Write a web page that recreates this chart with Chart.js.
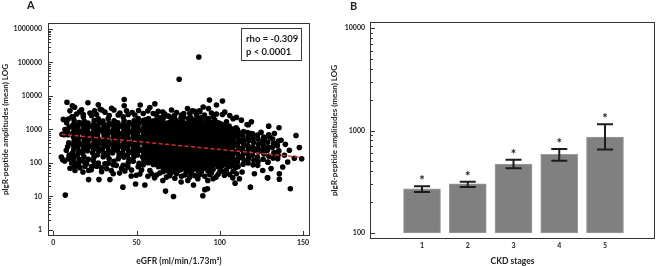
<!DOCTYPE html>
<html>
<head>
<meta charset="utf-8">
<script src="https://cdn.jsdelivr.net/npm/chart.js@4.4.1/dist/chart.umd.min.js"></script>
<style>
  html, body { margin: 0; padding: 0; background: #fff; }
  #wrap { position: relative; width: 658px; height: 266px; overflow: hidden; background: #fff; }
  canvas { position: absolute; top: 0; }
  .lab { position: absolute; font: bold 11px Lato, sans-serif; color: #222; line-height: 11px; }
  #stats { position: absolute; left: 241px; top: 28px; width: 61px; height: 33px; box-sizing: border-box;
           border: 1px solid #3a3a3a; background: #fff; font: bold 9.5px Lato, sans-serif; color: #1a1a1a;
           line-height: 13.4px; padding: 3px 0 0 4px; white-space: nowrap; }
</style>
</head>
<body>
<div id="wrap">
  <canvas id="ca" width="330" height="266" style="left:0;width:330px;height:266px"></canvas>
  <canvas id="cb" width="328" height="266" style="left:330px;width:328px;height:266px"></canvas>
  <div class="lab" style="left:27px;top:-1px">A</div>
  <div class="lab" style="left:350px;top:0px">B</div>
  <div id="stats">rho = -0.309<br>p &lt; 0.0001</div>
</div>
<script>
// ---------------- Panel A data: eGFR vs pIgR-peptide amplitude ----------------
const xTicksA = [0, 50, 100, 150];
const yTicksA = [1, 10, 100, 1000, 10000, 100000, 1000000];
const regressionLine = [[5, 720], [149, 148]];
const egfrAmplitude = [
  // dense core eGFR ~57-108
  [57,102],[56.6,134],[57.4,168],[57,236],[56.5,296],[57.3,408],[57,515],[56.7,705],[57.4,898],[57,1220],[56.6,1560],[57.2,2120],
  [60,90],[60.5,112],[59.6,156],[60.2,195],[60.6,270],[59.8,340],[60.3,466],[59.7,592],[60.4,810],[60,1030],[60.6,1400],[59.8,1790],
  [63,78],[63.5,97],[62.6,134],[63.2,172],[63.6,231],[62.8,300],[63.3,404],[62.7,522],[63.5,700],[63,905],[62.6,1215],[63.4,1570],
  [66,68],[66.4,85],[65.6,118],[66.3,147],[65.8,205],[66.5,257],[66,354],[65.6,450],[66.3,614],[65.8,782],[66.5,1062],[66,1360],[65.7,1850],[66.3,2360],
  [69,57],[69.5,79],[68.6,99],[69.3,134],[68.8,172],[69.5,232],[69,296],[68.6,407],[69.3,516],[68.8,703],[69.5,898],[69,1225],[68.6,1560],
  [72,64],[72.4,89],[71.6,112],[72.3,155],[71.8,196],[72.5,268],[72,341],[71.6,465],[72.3,594],[71.8,806],[72.5,1035],[72,1400],[71.7,1795],[72.3,2430],
  [75,60],[75.5,74],[74.6,102],[75.3,130],[74.8,176],[75.5,226],[75,307],[74.6,392],[75.3,533],[74.8,684],[75.5,925],[75,1188],[74.6,1605],
  [78,67],[78.4,86],[77.6,118],[78.3,148],[77.8,204],[78.5,259],[78,352],[77.6,451],[78.3,612],[77.8,786],[78.5,1060],[78,1366],[77.7,1840],[78.3,2370],
  [81,59],[81.5,77],[80.6,98],[81.3,134],[80.8,173],[81.5,232],[81,298],[80.6,404],[81.3,519],[80.8,700],[81.5,903],[81,1218],[80.6,1570],[81.3,2110],
  [84,65],[84.4,89],[83.6,113],[84.3,153],[83.8,197],[84.5,267],[84,343],[83.6,462],[84.3,597],[83.8,803],[84.5,1038],[84,1395],[83.7,1800],
  [87,58],[87.5,75],[86.6,102],[87.3,130],[86.8,176],[87.5,227],[87,305],[86.6,393],[87.3,531],[86.8,685],[87.5,920],[87,1190],[86.6,1600],[87.3,2070],
  [90,68],[90.4,86],[89.6,116],[90.3,150],[89.8,203],[90.5,260],[90,351],[89.6,453],[90.3,609],[89.8,787],[90.5,1057],[90,1368],
  [93,57],[93.5,78],[92.6,99],[93.3,133],[92.8,173],[93.5,231],[93,299],[92.6,403],[93.3,518],[92.8,701],[93.5,904],[93,1215],[92.6,1572],[93.3,2105],
  [96,65],[96.4,88],[95.6,113],[96.3,153],[95.8,198],[96.5,266],[96,344],[95.6,461],[96.3,598],[95.8,801],[96.5,1040],[96,1392],
  [99,77],[99.5,98],[98.6,134],[99.3,172],[98.8,231],[99.5,298],[99,403],[98.6,520],[99.3,698],[98.8,905],[99.5,1210],[99,1575],
  [102,86],[102.4,117],[101.6,149],[102.3,203],[101.8,260],[102.5,350],[102,452],[101.6,608],[102.3,788],[101.8,1055],[102.5,1370],
  [105,78],[105.5,98],[104.6,134],[105.3,172],[104.8,232],[105.5,298],[105,404],[104.6,519],[105.3,699],[104.8,903],[105.5,1212],
  [108,88],[108.4,113],[107.6,153],[108.3,198],[107.8,266],[108.5,343],[108,462],[107.6,597],[108.3,802],[107.8,1040],
  // dense core, in-between points
  [58.5,109],[58.9,139],[58.2,188],[58.7,243],[58.4,326],[58.9,424],[58.3,559],[58.7,748],[58.2,970],[58.8,1300],[58.4,1690],
  [61.5,95],[61.9,121],[61.2,165],[61.7,211],[61.4,285],[61.9,369],[61.3,495],[61.7,640],[61.2,860],[61.8,1115],[61.4,1490],[61.6,1930],
  [64.5,83],[64.9,105],[64.2,143],[64.7,184],[64.4,248],[64.9,320],[64.3,431],[64.7,556],[64.2,748],[64.8,968],[64.4,1300],[64.6,1680],[64.3,2250],
  [67.5,72],[67.9,92],[67.2,125],[67.7,160],[67.4,216],[67.9,279],[67.3,376],[67.7,485],[67.2,652],[67.8,843],[67.4,1133],[67.6,1465],
  [70.5,62],[70.9,82],[70.2,106],[70.7,143],[70.4,184],[70.9,248],[70.3,321],[70.7,432],[70.2,556],[70.8,748],[70.4,968],[70.6,1300],[70.3,1680],[70.7,2230],
  [73.5,70],[73.9,94],[73.2,122],[73.7,164],[73.4,212],[73.9,285],[73.3,368],[73.7,495],[73.2,640],[73.8,860],[73.4,1110],[73.6,1490],[73.3,1935],
  [76.5,63],[76.9,80],[76.2,108],[76.7,140],[76.4,188],[76.9,243],[76.3,327],[76.7,423],[76.2,567],[76.8,734],[76.4,986],[76.6,1276],[76.3,1714],[76.7,2220],
  [79.5,72],[79.9,92],[79.2,124],[79.7,160],[79.4,216],[79.9,279],[79.3,376],[79.7,485],[79.2,652],[79.8,843],[79.4,1133],[79.6,1465],
  [82.5,61],[82.9,82],[82.2,106],[82.7,143],[82.4,184],[82.9,248],[82.3,321],[82.7,432],[82.2,556],[82.8,748],[82.4,968],[82.6,1300],[82.3,1680],[82.7,2250],
  [85.5,70],[85.9,94],[85.2,122],[85.7,164],[85.4,212],[85.9,285],[85.3,368],[85.7,495],[85.2,640],[85.8,860],[85.4,1110],[85.6,1490],[85.3,1935],
  [88.5,63],[88.9,80],[88.2,108],[88.7,140],[88.4,188],[88.9,243],[88.3,327],[88.7,423],[88.2,567],[88.8,734],[88.4,986],[88.6,1276],[88.3,1714],[88.7,2220],
  [91.5,72],[91.9,92],[91.2,124],[91.7,160],[91.4,216],[91.9,279],[91.3,376],[91.7,485],[91.2,652],[91.8,843],[91.4,1133],[91.6,1465],[91.3,1960],
  [94.5,61],[94.9,82],[94.2,106],[94.7,143],[94.4,184],[94.9,248],[94.3,321],[94.7,432],[94.2,556],[94.8,748],[94.4,968],[94.6,1300],[94.3,1680],
  [97.5,93],[97.9,124],[97.2,160],[97.7,216],[97.4,279],[97.9,376],[97.3,485],[97.7,652],[97.2,843],[97.8,1133],[97.4,1465],
  [100.5,82],[100.9,106],[100.2,143],[100.7,184],[100.4,248],[100.9,321],[100.3,432],[100.7,556],[100.2,748],[100.8,968],[100.4,1300],
  [103.5,94],[103.9,122],[103.2,164],[103.7,212],[103.4,285],[103.9,368],[103.3,495],[103.7,640],[103.2,860],[103.8,1110],
  [106.5,80],[106.9,108],[106.2,140],[106.7,188],[106.4,243],[106.9,327],[106.3,423],[106.7,567],[106.2,734],[106.8,986],
  // left part eGFR ~8-55
  [9,133],[9.5,172],[8.6,305],[9.3,398],[8.8,695],[9.5,1190],[9,2060],[8.4,925],
  [12,117],[12.4,149],[11.6,203],[12.3,259],[11.8,352],[12.5,451],[12,610],[11.6,786],[12.3,1058],[11.8,1368],[12.5,1840],[12,2370],
  [15,102],[15.5,129],[14.6,178],[15.3,226],[14.8,305],[15.5,393],[15,531],[14.6,685],[15.3,922],[14.8,1190],[15.5,1600],
  [18,113],[18.4,153],[17.6,197],[18.3,267],[17.8,343],[18.5,462],[18,597],[17.6,803],[18.3,1038],[17.8,1395],[18.5,1800],[18,2420],
  [21,130],[20.6,232],[21.3,298],[20.8,404],[21.5,519],[21,700],[20.6,903],[21.3,1218],[20.8,1570],
  [24,117],[24.4,149],[23.6,203],[24.3,259],[23.8,352],[24.5,451],[24,610],[23.6,786],[24.3,1058],[23.8,1368],[24.5,1840],
  [27,99],[26.6,176],[27.3,227],[26.8,305],[27.5,393],[27,531],[26.6,685],[27.3,920],[26.8,1190],[27.5,1600],[27,2070],
  [30,153],[30.4,197],[29.6,267],[30.3,343],[29.8,462],[30.5,597],[30,803],[29.6,1038],[30.3,1395],[29.8,1800],
  [33,98],[33.5,134],[32.6,173],[33.3,232],[32.8,298],[33.5,404],[33,519],[32.6,700],[33.3,903],[32.8,1218],[33.5,1570],[33,2110],
  [36,88],[36.4,113],[35.6,198],[36.3,266],[35.8,344],[36.5,461],[36,598],[35.6,801],[36.3,1040],[35.8,1392],[36.5,1805],
  [39,134],[39.5,172],[38.6,231],[39.3,298],[38.8,403],[39.5,520],[39,698],[38.6,905],[39.3,1210],[38.8,1575],
  [42,86],[42.4,149],[41.6,203],[42.3,260],[41.8,350],[42.5,452],[42,608],[41.6,788],[42.3,1055],[41.8,1370],[42.5,1830],[42,2380],
  [45,102],[45.5,130],[44.6,176],[45.3,227],[44.8,305],[45.5,393],[45,531],[44.6,685],[45.3,920],[44.8,1190],[45.5,1600],
  [48,113],[48.4,153],[47.6,198],[48.3,266],[47.8,344],[48.5,461],[48,598],[47.6,801],[48.3,1040],[47.8,1392],[48.5,1805],
  [51,77],[51.5,98],[50.6,173],[51.3,232],[50.8,298],[51.5,404],[51,519],[50.6,700],[51.3,903],[50.8,1218],[51.5,1570],[51,2110],
  [54,88],[54.4,116],[53.6,150],[54.3,203],[53.8,260],[54.5,351],[54,453],[53.6,609],[54.3,787],[53.8,1057],[54.5,1368],[54,1835],
  // left part, in-between points
  [13.8,330],[13.7,430],[13.4,570],[13.8,740],[13.2,980],[13.6,1300],
  [19.3,322],[19.7,425],[19.4,560],[19.8,750],[19.2,975],[19.6,1280],
  [25.3,330],[25.7,420],[25.4,570],[25.8,735],[25.2,990],[25.6,1290],
  [31.3,320],[31.7,430],[31.4,556],[31.8,745],[31.2,965],[31.6,1310],
  [37.3,326],[37.7,427],[37.4,565],[37.8,738],[37.2,980],[37.6,1285],
  [43.3,321],[43.7,433],[43.4,560],[43.8,742],[43.2,972],[43.6,1300],
  [49.8,186],[49.3,245],[49.7,324],[49.4,427],[49.8,562],[49.2,741],[49.6,977],[49.3,1288],[49.7,1698],
  [55.5,125],[55.8,160],[55.3,214],[55.7,282],[55.4,372],[55.8,490],[55.2,646],[55.6,851],[55.3,1122],[55.7,1479],[55.4,1950],
  // right part eGFR ~110-136
  [111,79],[110.5,105],[111.3,138],[110.7,182],[111.2,240],[110.6,330],[111.4,420],[110.8,560],[111.1,760],[110.6,1000],
  [114,92],[114.5,125],[113.6,165],[114.3,215],[113.8,290],[114.4,380],[114,500],[113.7,650],[114.3,870],
  [117,100],[117.4,140],[116.6,190],[117.3,255],[116.8,330],[117.5,470],[117,620],[116.7,810],[117.2,1380],
  [120,88],[120.5,120],[119.6,170],[120.3,230],[119.8,305],[120.4,410],[120,560],[119.7,740],
  [123,110],[122.6,150],[123.3,215],[122.8,280],[123.4,365],[123,520],[122.7,680],
  [126,130],[126.5,185],[125.6,250],[126.3,330],[125.8,440],[126.4,600],
  [129,105],[129.5,160],[128.6,240],[129.3,300],[128.8,420],[129.4,700],
  [132,140],[132.5,200],[131.6,290],[132.3,380],[131.8,520],
  [135,170],[135.5,230],[134.6,330],[135.3,450],
  [109.5,72],[109.8,125],[109.3,210],[109.7,370],[109.4,640],[109.8,1130],
  [112.5,150],[112.8,260],[112.3,450],[112.7,780],
  // scattered high values
  [87.4,146000],[75.6,31600],[8.2,6500],[20.8,6300],[42.6,7900],[42.6,5100],[52.2,5400],[93.8,7600],[101.6,7100],
  [78.4,3000],[84.8,3500],[101.6,2800],[116.4,1400],[129.4,1260],[135.6,1130],[145.8,660],[147.8,290],[149.2,134],
  [144.8,138],[139.4,360],[11.4,5100],[29.2,3800],[36.4,3800],[65.8,3300],[83.6,3600],[93.2,4200],[80.6,4200],[88,3400],
  [11.2,2400],[12.8,4600],[15.8,3400],[24.8,3600],[28.2,4000],[33.6,2630],[47.4,3200],[51.2,3700],[56.8,3600],[69.2,2500],
  [72.8,2630],[87.8,3600],[90.8,2700],[96.2,2400],[100.2,1500],[105.6,1260],[124.8,830],[130,600],[132.8,380],[134.4,210],
  [138.8,170],[140.8,107],[137.8,76],[135.8,48],[128.8,36],[120.8,48],[113.4,54],[111.8,34],[142.4,17],[118.4,19],
  [126.8,270],[141.8,240],[134.8,135],[130.8,68],[125.8,60],[122.8,85],[128.8,107],[116.8,120],[114.8,480],[118.8,760],
  [126.8,540],[132.8,760],[136.8,480],[108,2100],[104,1700],[62,2700],[60,3000],[45,2800],[39,2700],[18,2800],[23,2600],
  [8,1600],[7,1000],[6.5,700],[5.2,720],[6,2000],
  [14,2900],[17,3900],[22,3100],[26,2800],[31,3300],[35,4300],[40,3100],[44,3600],[49,2700],[54,3000],[58,4500],
  [63,3500],[67,2900],[71,3800],[74,3200],[77,2700],[82,3000],[86,2800],[90,4700],[95,3100],[98,2900],[103,3300],
  [106,2600],[110,2300],[113,1900],[119,1700],[10,3600],[27,5500],[61,5800],[98,5400],[66,2250],[89,2050],[97,1900],
  // scattered low values
  [7.2,11],[72.2,10],[89.8,10.5],[91,16],[92.6,17],[67.4,14.5],[41.8,19],[55,22],[49.4,23.5],[84.2,22],[27.4,32],[21.2,32],
  [34,32],[21.2,60],[28.8,72],[46.8,41],[49.8,43],[56.8,40],[60.8,36],[65.8,30],[76.8,27],[80.8,30],[86.8,34],[92.8,30],
  [97.8,38],[102.8,43],[107.8,36],[4.8,151],[5.6,126],[6.8,115],[7.8,240],[9.8,151],[12.8,76],[15.2,85],[17.8,54],
  [22.8,63],[24.8,85],[34.8,60],[37.8,85],[39.8,50],[44.8,76],[109.2,25],[128.6,36],[135.8,33],[64,50],[70,42],[74,48],
  [79,44],[83,50],[88,45],[95,50],[100,55],[104,62],[58,60],[53,62],[31,95],[26,80],[11,100],[14,90],[19,80],
  [59,48],[62,44],[66,55],[68,38],[71,52],[73,35],[77,40],[80,52],[82,38],[85,42],[89,55],[91,40],[94,45],[96,34],
  [99,46],[101,60],[103,50],[106,45],[108,57],[110,48],[10,70],[13,60],[16,72],[20,95],[23,78],[29,55],[32,68],
  [36,48],[41,70],[43,58],[47,62],[52,47]
];

// ---------------- Panel B data: CKD stages ----------------
const ckdStages = [1, 2, 3, 4, 5];
const stageMeans = [269, 301, 471, 586, 864];
const stageLower = [251, 281, 429, 508, 652];
const stageUpper = [286, 317, 519, 660, 1150];
const barBase = 100;
const yTicksB = [100, 1000, 10000];

Chart.defaults.font.family = 'Lato, sans-serif';
Chart.defaults.color = '#222';

function minorTicks(majors) {
  const out = [];
  for (let i = 0; i < majors.length - 1; i++) {
    for (let k = 2; k <= 9; k++) out.push(majors[i] * k);
  }
  return out;
}

const framePlugin = {
  id: 'frame',
  afterDatasetsDraw(chart, args, opts) {
    const { ctx, chartArea: a, scales } = chart;
    ctx.save();
    ctx.strokeStyle = '#333';
    ctx.lineWidth = 1;
    ctx.strokeRect(a.left + 0.5, a.top + 0.5, a.right - a.left - 1, a.bottom - a.top - 1);
    ctx.beginPath();
    (opts.yMajor || []).forEach(v => {
      const py = Math.round(scales.y.getPixelForValue(v)) + 0.5;
      ctx.moveTo(a.left, py); ctx.lineTo(a.left + 5, py);
    });
    minorTicks(opts.yMajor || []).forEach(v => {
      const py = Math.round(scales.y.getPixelForValue(v)) + 0.5;
      if (py > a.top && py < a.bottom) { ctx.moveTo(a.left, py); ctx.lineTo(a.left + 3, py); }
    });
    (opts.xMajor || []).forEach(v => {
      const px = Math.round(scales.x.getPixelForValue(v)) + 0.5;
      ctx.moveTo(px, a.bottom); ctx.lineTo(px, a.bottom - 5);
    });
    ctx.stroke();
    ctx.restore();
  }
};

const errorBarPlugin = {
  id: 'errorBars',
  afterDatasetsDraw(chart) {
    const { ctx, scales: { x, y } } = chart;
    ctx.save();
    ctx.strokeStyle = '#1c1c1c';
    ctx.fillStyle = '#1c1c1c';
    ctx.lineWidth = 2;
    ctx.font = 'bold 13px Lato, sans-serif';
    ctx.textAlign = 'center';
    ctx.textBaseline = 'middle';
    ckdStages.forEach((s, i) => {
      const px = x.getPixelForValue(s);
      const yl = y.getPixelForValue(stageLower[i]);
      const yh = y.getPixelForValue(stageUpper[i]);
      ctx.beginPath();
      ctx.moveTo(px, yl); ctx.lineTo(px, yh);
      ctx.moveTo(px - 8, yl); ctx.lineTo(px + 8, yl);
      ctx.moveTo(px - 8, yh); ctx.lineTo(px + 8, yh);
      ctx.stroke();
      ctx.fillText('*', px, yh - 5);
    });
    ctx.restore();
  }
};

const yTitle = 'pIgR-peptide amplitudes (mean) LOG';

new Chart(document.getElementById('ca'), {
  type: 'scatter',
  data: {
    datasets: [
      {
        type: 'line',
        data: regressionLine.map(([x, y]) => ({ x, y })),
        borderColor: 'rgba(225,45,45,0.95)',
        borderWidth: 1.5,
        borderDash: [4, 2.5],
        pointRadius: 0,
        fill: false
      },
      {
        data: egfrAmplitude.map(([x, y]) => ({ x, y })),
        backgroundColor: '#000',
        borderWidth: 0,
        pointRadius: 2.8,
        pointHoverRadius: 2.8
      }
    ]
  },
  options: {
    responsive: false,
    animation: false,
    devicePixelRatio: 1,
    events: [],
    layout: { padding: { left: 0, right: 20, top: 23, bottom: 0 } },
    plugins: {
      legend: { display: false },
      tooltip: { enabled: false },
      frame: { yMajor: yTicksA, xMajor: xTicksA }
    },
    scales: {
      x: {
        type: 'linear', min: -3.2, max: 154.2, offset: false,
        grid: { display: false, drawTicks: false }, border: { display: false },
        ticks: { padding: 3, font: { size: 7, weight: 'bold' }, color: '#222', maxRotation: 0, autoSkip: false },
        afterBuildTicks: s => { s.ticks = xTicksA.map(v => ({ value: v })); },
        afterFit: s => { s.height = 30; },
        title: { display: true, text: 'eGFR (ml/min/1.73m²)', font: { size: 8.5, weight: 'bold' }, color: '#222', padding: { top: 0, bottom: 0 } }
      },
      y: {
        type: 'logarithmic', min: 0.662, max: 1510000,
        grid: { display: false, drawTicks: false }, border: { display: false },
        ticks: { padding: 6, font: { size: 7, weight: 'bold' }, color: '#222', autoSkip: false, callback: v => String(v) },
        afterBuildTicks: s => { s.ticks = yTicksA.map(v => ({ value: v })); },
        afterFit: s => { s.width = 48; },
        title: { display: true, text: yTitle, font: { size: 8, weight: 'bold' }, color: '#222', padding: { top: 1, bottom: 0 } }
      }
    }
  },
  plugins: [framePlugin]
});

new Chart(document.getElementById('cb'), {
  type: 'bar',
  data: {
    datasets: [{
      data: ckdStages.map((s, i) => ({ x: s, y: [barBase, stageMeans[i]] })),
      backgroundColor: '#808080',
      borderColor: '#9c9c9c',
      borderWidth: 1,
      borderSkipped: false,
      barThickness: 37
    }]
  },
  options: {
    responsive: false,
    animation: false,
    devicePixelRatio: 1,
    events: [],
    layout: { padding: { left: 0, right: 3, top: 22, bottom: 0 } },
    plugins: {
      legend: { display: false },
      tooltip: { enabled: false },
      frame: { yMajor: yTicksB, xMajor: [] }
    },
    scales: {
      x: {
        type: 'linear', min: -0.137, max: 6.093, offset: false,
        grid: { display: false, drawTicks: false }, border: { display: false },
        ticks: { padding: 3, font: { size: 7, weight: 'bold' }, color: '#222', maxRotation: 0, autoSkip: false },
        afterBuildTicks: s => { s.ticks = ckdStages.map(v => ({ value: v })); },
        afterFit: s => { s.height = 27; },
        title: { display: true, text: 'CKD stages', font: { size: 8.5, weight: 'bold' }, color: '#222', padding: { top: 0, bottom: 0 } }
      },
      y: {
        type: 'logarithmic', min: 87.4, max: 11443,
        grid: { display: false, drawTicks: false }, border: { display: false },
        ticks: { padding: 5, font: { size: 7, weight: 'bold' }, color: '#222', autoSkip: false, callback: v => String(v) },
        afterBuildTicks: s => { s.ticks = yTicksB.map(v => ({ value: v })); },
        afterFit: s => { s.width = 40; },
        title: { display: true, text: yTitle, font: { size: 8, weight: 'bold' }, color: '#222', padding: { top: 0, bottom: 0 } }
      }
    }
  },
  plugins: [framePlugin, errorBarPlugin]
});
</script>
</body>
</html>
